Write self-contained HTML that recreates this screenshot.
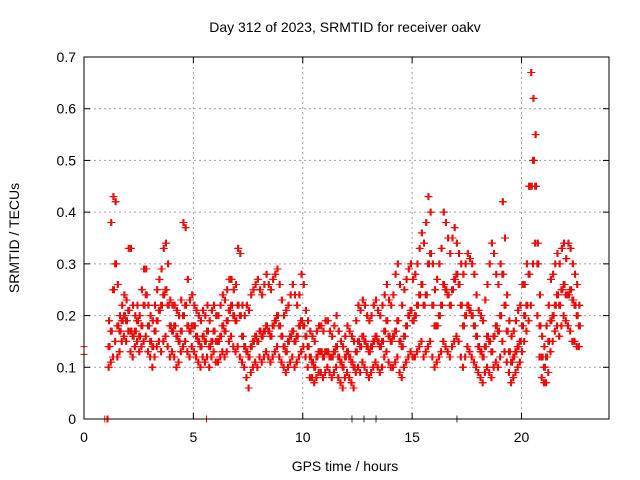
<!DOCTYPE html>
<html><head><meta charset="utf-8"><style>
body{margin:0;background:#fff;}
svg{display:block;font-family:"Liberation Sans",sans-serif;}
</style></head><body>
<svg id="chart" width="640" height="480">
<text x="345" y="32" font-size="14" text-anchor="middle">Day 312 of 2023, SRMTID for receiver oakv</text>
<text x="345" y="471" font-size="14" text-anchor="middle">GPS time / hours</text>
<text x="19" y="238" font-size="14" text-anchor="middle" transform="rotate(-90 19 238)">SRMTID / TECUs</text>
<g id="grid"></g><g id="axes"></g><g id="marks"></g>
<rect x="84" y="57" width="525" height="362" fill="none" stroke="#000" stroke-width="1"/>
</svg>
<script>
const xTicks=[0,5,10,15,20];
const yTicks=[0,0.1,0.2,0.3,0.4,0.5,0.6,0.7];
const yTickLabels=["0","0.1","0.2","0.3","0.4","0.5","0.6","0.7"];
const tStart=1.1, tStep=0.1;
const lo=[0.10,0.11,0.12,0.15,0.12,0.13,0.15,0.16,0.15,0.17,
0.13,0.12,0.14,0.15,0.13,0.14,0.15,0.16,0.13,0.12,
0.10,0.12,0.14,0.15,0.13,0.15,0.16,0.14,0.12,0.13,
0.12,0.10,0.11,0.13,0.14,0.15,0.13,0.12,0.14,0.13,
0.12,0.11,0.10,0.12,0.11,0.12,0.10,0.12,0.13,0.11,
0.11,0.12,0.13,0.12,0.13,0.15,0.16,0.14,0.13,0.14,
0.12,0.11,0.10,0.08,0.06,0.09,0.10,0.11,0.10,0.12,
0.11,0.12,0.13,0.12,0.11,0.12,0.13,0.14,0.12,0.11,
0.10,0.09,0.10,0.11,0.12,0.10,0.11,0.12,0.13,0.14,
0.12,0.10,0.08,0.08,0.07,0.08,0.09,0.09,0.08,0.09,
0.10,0.09,0.08,0.09,0.10,0.08,0.07,0.06,0.08,0.09,
0.08,0.07,0.06,0.09,0.10,0.09,0.11,0.10,0.09,0.08,
0.09,0.10,0.11,0.10,0.09,0.10,0.12,0.13,0.11,0.10,
0.10,0.11,0.12,0.09,0.08,0.10,0.11,0.12,0.13,0.12,
0.12,0.13,0.14,0.15,0.12,0.13,0.14,0.15,0.12,0.10,
0.11,0.12,0.13,0.15,0.14,0.13,0.12,0.14,0.15,0.16,
0.15,0.12,0.10,0.12,0.14,0.13,0.12,0.11,0.10,0.09,
0.08,0.07,0.09,0.10,0.09,0.08,0.10,0.11,0.10,0.12,
0.15,0.13,0.11,0.09,0.07,0.08,0.09,0.10,0.11,0.13,
0.15,0.17,0.19,0.22,0.30,0.34,0.20,0.12,0.08,0.07,
0.07,0.09,0.13,0.15,0.17,0.18,0.16,0.18,0.20,0.19,
0.18,0.17,0.15,0.15,0.14,0.14];
const mid=[0.14,0.17,0.25,0.30,0.18,0.17,0.19,0.20,0.19,0.21,
0.17,0.16,0.17,0.19,0.16,0.18,0.22,0.24,0.18,0.15,
0.14,0.17,0.19,0.21,0.22,0.24,0.25,0.22,0.18,0.17,
0.18,0.16,0.15,0.17,0.20,0.22,0.18,0.17,0.18,0.18,
0.16,0.15,0.14,0.16,0.15,0.17,0.14,0.15,0.17,0.15,
0.15,0.16,0.18,0.17,0.19,0.21,0.22,0.20,0.19,0.22,
0.20,0.16,0.14,0.13,0.12,0.14,0.15,0.16,0.15,0.17,
0.16,0.17,0.18,0.17,0.16,0.18,0.19,0.20,0.18,0.16,
0.14,0.13,0.15,0.16,0.17,0.15,0.16,0.18,0.19,0.18,
0.16,0.14,0.12,0.11,0.10,0.12,0.13,0.13,0.12,0.13,
0.13,0.12,0.12,0.13,0.14,0.12,0.11,0.10,0.12,0.13,
0.12,0.11,0.10,0.13,0.15,0.14,0.16,0.15,0.14,0.13,
0.14,0.15,0.16,0.15,0.14,0.15,0.17,0.19,0.16,0.15,
0.16,0.17,0.19,0.15,0.14,0.16,0.18,0.20,0.21,0.19,
0.20,0.22,0.24,0.26,0.22,0.24,0.30,0.32,0.22,0.18,
0.18,0.20,0.22,0.26,0.25,0.24,0.22,0.25,0.27,0.28,
0.26,0.22,0.18,0.20,0.22,0.21,0.20,0.18,0.16,0.14,
0.13,0.12,0.14,0.16,0.15,0.13,0.16,0.18,0.17,0.20,
0.28,0.22,0.17,0.13,0.11,0.12,0.13,0.14,0.15,0.18,
0.20,0.22,0.28,0.45,0.50,0.45,0.30,0.18,0.12,0.10,
0.12,0.15,0.19,0.20,0.22,0.24,0.22,0.25,0.26,0.24,
0.24,0.25,0.23,0.22,0.20,0.18];
const hi=[0.19,0.38,0.43,0.42,0.26,0.20,0.22,0.24,0.23,0.33,
0.33,0.22,0.20,0.22,0.20,0.25,0.29,0.29,0.22,0.20,
0.19,0.22,0.25,0.27,0.29,0.33,0.34,0.30,0.23,0.22,
0.22,0.21,0.20,0.23,0.38,0.37,0.27,0.23,0.24,0.22,
0.21,0.20,0.19,0.21,0.20,0.22,0.19,0.21,0.22,0.20,
0.20,0.22,0.24,0.23,0.25,0.27,0.27,0.25,0.26,0.33,
0.32,0.22,0.20,0.22,0.21,0.24,0.25,0.26,0.27,0.25,
0.24,0.26,0.28,0.26,0.25,0.27,0.28,0.29,0.26,0.23,
0.20,0.21,0.22,0.24,0.26,0.24,0.22,0.24,0.28,0.26,
0.21,0.19,0.17,0.16,0.15,0.17,0.18,0.18,0.17,0.19,
0.19,0.17,0.16,0.18,0.20,0.17,0.15,0.14,0.16,0.18,
0.17,0.16,0.15,0.19,0.22,0.21,0.23,0.22,0.20,0.19,
0.20,0.22,0.23,0.21,0.20,0.22,0.24,0.26,0.23,0.22,
0.24,0.28,0.30,0.26,0.22,0.25,0.27,0.29,0.30,0.27,
0.28,0.30,0.33,0.36,0.34,0.38,0.43,0.40,0.30,0.25,
0.27,0.30,0.33,0.40,0.38,0.35,0.32,0.35,0.37,0.34,
0.32,0.30,0.28,0.30,0.32,0.31,0.30,0.28,0.24,0.21,
0.20,0.19,0.23,0.26,0.30,0.34,0.32,0.28,0.26,0.30,
0.42,0.35,0.24,0.19,0.16,0.17,0.19,0.21,0.22,0.26,
0.26,0.30,0.45,0.67,0.62,0.55,0.34,0.24,0.16,0.14,
0.18,0.22,0.27,0.28,0.30,0.32,0.30,0.33,0.34,0.31,
0.34,0.33,0.30,0.28,0.26,0.22];
const extraRedT=[0,0,0.95,1.05,1.1,5.6];
const extraRedV=[0.14,0.125,0,0,0,0];
const extraBlackT=[12.25,12.8,13.35,17.05];
const extraBlackV=[0,0,0,0];

const X0=84,X1=609,Y0=419,Y1=57;
const sx=t=>X0+(t/24)*(X1-X0);
const sy=v=>Y0-(v/0.7)*(Y0-Y1);
const NS='http://www.w3.org/2000/svg';
function mk(tag,attrs,parent){const e=document.createElementNS(NS,tag);for(const k in attrs)e.setAttribute(k,attrs[k]);parent.appendChild(e);return e;}
const grid=document.getElementById('grid'),axes=document.getElementById('axes'),marks=document.getElementById('marks');
xTicks.forEach(t=>{
  const x=sx(t);
  if(t>0){const g=mk('line',{x1:x,x2:x,y1:Y1,y2:Y0,stroke:'#a0a0a0','stroke-dasharray':'2,3'},grid);
  
  }
  mk('line',{x1:x,x2:x,y1:Y0,y2:Y0-6,stroke:'#000'},axes);
  mk('line',{x1:x,x2:x,y1:Y1,y2:Y1+6,stroke:'#000'},axes);
  const l=mk('text',{x:x,y:Y0+23,'font-size':14,'text-anchor':'middle'},axes);
  l.textContent=String(t);
  
  
});
yTicks.forEach((v,i)=>{
  const y=sy(v);
  if(i>0&&i<yTicks.length-1){const g=mk('line',{x1:X0,x2:X1,y1:y,y2:y,stroke:'#a0a0a0','stroke-dasharray':'2,3'},grid);
  
  }
  mk('line',{x1:X0,x2:X0+6,y1:y,y2:y,stroke:'#000'},axes);
  mk('line',{x1:X1,x2:X1-6,y1:y,y2:y,stroke:'#000'},axes);
  const l=mk('text',{x:X0-8,y:y+5,'font-size':14,'text-anchor':'end'},axes);
  l.textContent=yTickLabels[i];
  
  
});
function plus(t,v,col){
  const x=sx(t),y=sy(v);
  const p=mk('path',{d:`M${x-3.5} ${y}h7M${x} ${y-3.5}v7`,stroke:col,'stroke-width':1,fill:'none'},marks);
  
  
}
// black series (drawn first, behind red)
mid.forEach((v,i)=>{const t=tStart+i*tStep;plus(t+0.07,hi[i],'#303030');plus(t+0.03,lo[i],'#303030');plus(t+0.09,v,'#303030');});
extraBlackT.forEach((t,i)=>plus(t,extraBlackV[i],'#303030'));
// red series
mid.forEach((v,i)=>{
  const t=tStart+i*tStep;
  plus(t,lo[i],'#ff0000');plus(t+0.05,lo[i],'#ff0000');
  plus(t,v,'#ff0000');plus(t+0.035,v,'#ff0000');plus(t+0.07,v,'#ff0000');
  plus(t+0.02,hi[i],'#ff0000');plus(t+0.06,hi[i],'#ff0000');
});
extraRedT.forEach((t,i)=>plus(t,extraRedV[i],'#ff0000'));
</script>
</body></html>
